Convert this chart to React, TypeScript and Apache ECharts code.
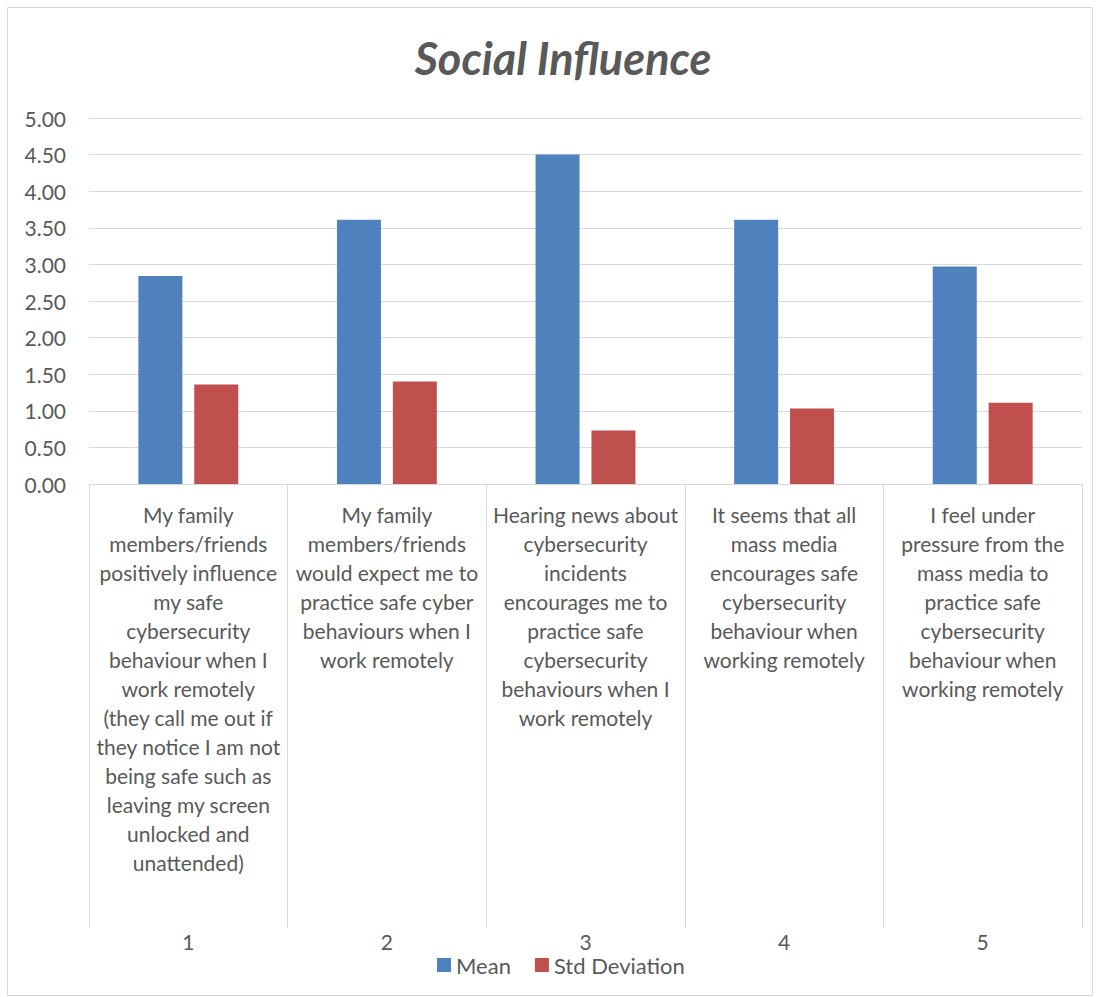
import React, { useEffect, useRef } from "react";
import * as echarts from "echarts";

const categories: string[] = [
  "My family\nmembers/friends\npositively influence\nmy safe\ncybersecurity\nbehaviour when I\nwork remotely\n(they call me out if\nthey notice I am not\nbeing safe such as\nleaving my screen\nunlocked and\nunattended)",
  "My family\nmembers/friends\nwould expect me to\npractice safe cyber\nbehaviours when I\nwork remotely",
  "Hearing news about\ncybersecurity\nincidents\nencourages me to\npractice safe\ncybersecurity\nbehaviours when I\nwork remotely",
  "It seems that all\nmass media\nencourages safe\ncybersecurity\nbehaviour when\nworking remotely",
  "I feel under\npressure from the\nmass media to\npractice safe\ncybersecurity\nbehaviour when\nworking remotely",
];
const itemNumbers: string[] = ["1", "2", "3", "4", "5"];
const meanValues: number[] = [2.84, 3.61, 4.5, 3.61, 2.97];
const stdValues: number[] = [1.36, 1.4, 0.73, 1.03, 1.11];

const FONT = "Lato, 'Open Sans', sans-serif";
const GREY = "#595959";
const LINE = "#d9d9d9";

export default function App() {
  const ref = useRef<HTMLDivElement>(null);
  useEffect(() => {
    document.body.style.margin = "0";
    const chart = echarts.init(ref.current!, null, { renderer: "svg" });
    chart.setOption({
      animation: false,
      backgroundColor: "#ffffff",
      title: {
        text: "Social Influence",
        left: 558,
        textAlign: "center",
        top: 30,
        textStyle: {
          fontFamily: FONT,
          fontSize: 45,
          fontWeight: "bold",
          fontStyle: "italic",
          color: GREY,
        },
      },
      graphic: [
        {
          type: "rect",
          shape: { x: 7.5, y: 7.5, width: 1085, height: 988 },
          style: { fill: "none", stroke: LINE, lineWidth: 1 },
          silent: true,
        },
      ],
      legend: {
        top: 954,
        left: 437,
        itemWidth: 14,
        itemHeight: 14,
        itemGap: 24,
        padding: 0,
        icon: "rect",
        textStyle: { fontFamily: FONT, fontSize: 22, lineHeight: 20, color: GREY },
        data: ["Mean", "Std Deviation"],
      },
      grid: { left: 89, right: 18, top: 118, bottom: 513, containLabel: false },
      xAxis: [
        {
          type: "category",
          data: categories,
          position: "bottom",
          axisLine: { show: true, lineStyle: { color: LINE, width: 1 } },
          axisTick: { show: true, length: 444, lineStyle: { color: LINE, width: 1 } },
          axisLabel: {
            interval: 0,
            margin: 16,
            fontFamily: FONT,
            fontSize: 21,
            lineHeight: 29,
            color: GREY,
            align: "center",
            verticalAlign: "top",
            overflow: "none",
          },
        },
        {
          type: "category",
          data: itemNumbers,
          position: "bottom",
          offset: 445,
          axisLine: { show: false },
          axisTick: { show: false },
          axisLabel: {
            interval: 0,
            margin: 2,
            fontFamily: FONT,
            fontSize: 21,
            lineHeight: 20,
            color: GREY,
          },
        },
      ],
      yAxis: {
        type: "value",
        min: 0,
        max: 5,
        interval: 0.5,
        axisLine: { show: false },
        axisTick: { show: false },
        splitLine: { lineStyle: { color: LINE, width: 1 } },
        axisLabel: {
          margin: 23,
          fontFamily: FONT,
          fontSize: 21,
          color: GREY,
          formatter: (v: number) => v.toFixed(2),
        },
      },
      series: [
        {
          name: "Mean",
          type: "bar",
          data: meanValues,
          barWidth: 44,
          barGap: "27%",
          itemStyle: { color: "#4f81bd" },
        },
        {
          name: "Std Deviation",
          type: "bar",
          data: stdValues,
          barWidth: 44,
          barGap: "27%",
          itemStyle: { color: "#c0504d" },
        },
      ],
    });
    return () => chart.dispose();
  }, []);
  return <div ref={ref} style={{ width: 1100, height: 997 }} />;
}
